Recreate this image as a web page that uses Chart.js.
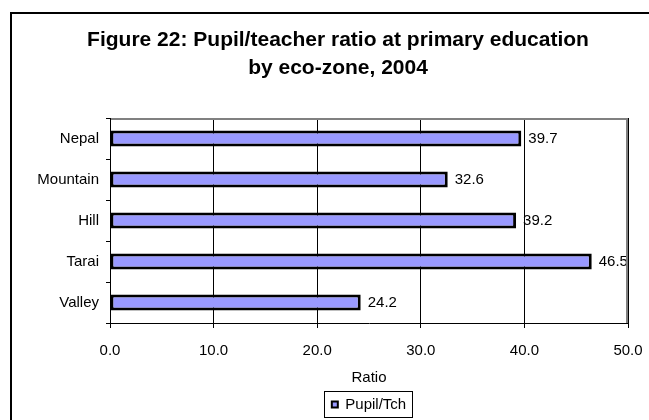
<!DOCTYPE html>
<html>
<head>
<meta charset="utf-8">
<script src="https://cdn.jsdelivr.net/npm/chart.js@4.4.0/dist/chart.umd.min.js"></script>
<style>
  html, body { margin: 0; padding: 0; background: #fff; }
</style>
</head>
<body>
<canvas id="ratioChart" width="649" height="420"></canvas>
<script>
    const zones = ['Nepal', 'Mountain', 'Hill', 'Tarai', 'Valley'];
    const pupilTeacher = [39.7, 32.6, 39.2, 46.5, 24.2];
    const ratioTicks = [0, 10, 20, 30, 40, 50];
    const seriesName = 'Pupil/Tch';
    const titleLines = ['Figure 22: Pupil/teacher ratio at primary education', 'by eco-zone, 2004'];

    const FONT = "'Liberation Sans', Arial, sans-serif";

    // heading sits a bit right of the canvas centre, so it is drawn by hand
    const headingPlugin = {
        id: 'heading',
        afterDraw(chart) {
            const { ctx } = chart;
            ctx.save();
            ctx.font = `bold 21px ${FONT}`;
            ctx.fillStyle = '#000';
            ctx.textAlign = 'center';
            ctx.textBaseline = 'middle';
            titleLines.forEach((line, i) => ctx.fillText(line, 338, 40.5 + i * 27.5));
            ctx.restore();
        }
    };

    // outer frame, grey plot border, boxed legend
    const framePlugin = {
        id: 'frame',
        afterDraw(chart) {
            const { ctx, chartArea: a } = chart;
            ctx.save();
            ctx.strokeStyle = '#808080';
            ctx.lineWidth = 2;
            ctx.beginPath();
            ctx.moveTo(a.left + 1, a.top + 1);
            ctx.lineTo(a.right - 1, a.top + 1);
            ctx.lineTo(a.right - 1, a.bottom);
            ctx.stroke();

            ctx.strokeStyle = '#000';
            ctx.beginPath();
            ctx.moveTo(11, chart.height);
            ctx.lineTo(11, 13);
            ctx.lineTo(chart.width, 13);
            ctx.stroke();

            const hb = chart.legend.legendHitBoxes[0];
            if (hb) {
                ctx.lineWidth = 1;
                const x0 = Math.round(hb.left - 8) + 0.5;
                const y0 = Math.round(hb.top - 6) + 0.5;
                const x1 = Math.round(hb.left + hb.width + 6) + 0.5;
                const y1 = Math.round(hb.top + hb.height + 5) + 0.5;
                ctx.strokeRect(x0, y0, x1 - x0, y1 - y0);
            }
            ctx.restore();
        }
    };

    // value printed at the end of each bar
    const valueLabels = {
        id: 'valueLabels',
        afterDatasetsDraw(chart) {
            const { ctx } = chart;
            const meta = chart.getDatasetMeta(0);
            ctx.save();
            ctx.font = `15px ${FONT}`;
            ctx.fillStyle = '#000';
            ctx.textAlign = 'left';
            ctx.textBaseline = 'middle';
            meta.data.forEach((bar, i) => {
                ctx.fillText(pupilTeacher[i].toFixed(1), bar.x + 7, bar.y);
            });
            ctx.restore();
        }
    };

    new Chart(document.getElementById('ratioChart'), {
        type: 'bar',
        data: {
            labels: zones,
            datasets: [{
                label: seriesName,
                data: pupilTeacher,
                backgroundColor: '#9999FF',
                borderColor: '#000',
                borderWidth: 3,
                borderSkipped: false,
                barPercentage: 0.39,
                categoryPercentage: 1
            }]
        },
        options: {
            indexAxis: 'y',
            responsive: false,
            animation: false,
            layout: { padding: { left: 20, right: 21, top: 118, bottom: 0 } },
            scales: {
                x: {
                    min: 0, max: 50,
                    afterBuildTicks: s => { s.ticks = ratioTicks.map(v => ({ value: v })); },
                    afterFit: s => {
                        s.height = 64;
                        s.paddingLeft = 0;
                        s.paddingRight = 0;
                    },
                    ticks: {
                        color: '#000',
                        font: { family: FONT, size: 15 },
                        padding: 14,
                        maxRotation: 0,
                        callback: v => Number(v).toFixed(1)
                    },
                    grid: { color: '#000', lineWidth: 1, tickLength: 5 },
                    border: { color: '#000', width: 1 },
                    title: {
                        display: true,
                        text: 'Ratio',
                        color: '#000',
                        font: { family: FONT, size: 15 },
                        padding: { top: 0, bottom: 0 }
                    }
                },
                y: {
                    afterFit: s => { s.width = 90; },
                    ticks: {
                        color: '#000',
                        font: { family: FONT, size: 15 },
                        padding: 7
                    },
                    grid: {
                        offset: true,
                        drawOnChartArea: false,
                        color: '#000',
                        tickLength: 4
                    },
                    border: { color: '#000', width: 1 }
                }
            },
            plugins: {
                title: { display: false },
                legend: {
                    position: 'bottom',
                    fullSize: false,
                    maxHeight: 33,
                    labels: {
                        color: '#000',
                        font: { family: FONT, size: 15 },
                        boxWidth: 6,
                        boxHeight: 6,
                        padding: 10,
                        generateLabels: chart =>
                            Chart.defaults.plugins.legend.labels.generateLabels(chart)
                                .map(item => ({ ...item, lineWidth: 2 }))
                    }
                },
                tooltip: { enabled: false }
            }
        },
        plugins: [headingPlugin, framePlugin, valueLabels]
    });
</script>
</body>
</html>
